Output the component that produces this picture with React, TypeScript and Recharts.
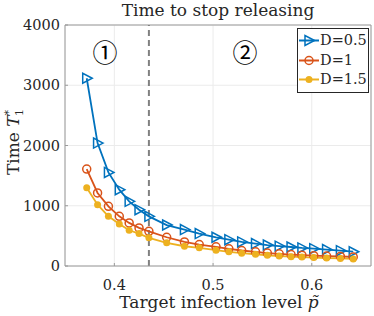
import React from 'react';
import {
  LineChart,
  Line,
  XAxis,
  YAxis,
  CartesianGrid,
  ReferenceLine,
} from 'recharts';

// target infection level p~
const pTilde = [
  0.372, 0.383, 0.394, 0.405, 0.415, 0.425, 0.435, 0.453, 0.471, 0.486, 0.503,
  0.516, 0.529, 0.543, 0.555, 0.567, 0.579, 0.59, 0.602, 0.615, 0.629, 0.642,
];
const timeD05 = [
  3116, 2040, 1553, 1267, 1073, 935, 824, 680, 605, 538, 477, 437, 400, 372,
  348, 330, 315, 300, 288, 273, 255, 237,
];
const timeD1 = [
  1609, 1212, 990, 824, 715, 632, 576, 477, 400, 356, 318, 285, 257, 235, 215,
  202, 190, 180, 172, 165, 158, 150,
];
const timeD15 = [
  1300, 1018, 824, 699, 593, 538, 467, 384, 328, 301, 262, 235, 212, 195, 178,
  165, 155, 148, 140, 132, 125, 118,
];
const xTicks = [0.4, 0.5, 0.6];
const yTicks = [0, 1000, 2000, 3000, 4000];
const xDomain = [0.35, 0.66];
const yDomain = [0, 4000];
const threshold = 0.435;

const series = [
  { key: 'd05', name: 'D=0.5', color: '#0072BD', marker: 'tri' },
  { key: 'd1', name: 'D=1', color: '#D95319', marker: 'ring' },
  { key: 'd15', name: 'D=1.5', color: '#EDB120', marker: 'dot' },
];

const data = pTilde.map((p, i) => ({
  p,
  d05: timeD05[i],
  d1: timeD1[i],
  d15: timeD15[i],
}));

const serif = '"DejaVu Serif", serif';
const ink = '#262626';
const axisGray = '#9a9a9a';

const Marker = ({ kind, cx, cy, color }: any) => {
  if (cx == null || cy == null) return null;
  if (kind === 'tri') {
    return (
      <polygon
        points={`${cx + 5.5},${cy} ${cx - 4},${cy - 5} ${cx - 4},${cy + 5}`}
        fill="none"
        stroke={color}
        strokeWidth={1.5}
      />
    );
  }
  if (kind === 'ring') {
    return <circle cx={cx} cy={cy} r={4} fill="none" stroke={color} strokeWidth={1.5} />;
  }
  return <circle cx={cx} cy={cy} r={3.5} fill={color} stroke="none" />;
};

// legend box drawn on top, like matlab's northeast legend
const LegendBox = () => (
  <div
    style={{
      position: 'absolute',
      left: 297,
      top: 28,
      width: 72,
      height: 65,
      boxSizing: 'border-box',
      border: `1px solid ${ink}`,
      background: '#fff',
      paddingTop: 2,
    }}
  >
    {series.map((s) => (
      <div key={s.key} style={{ display: 'flex', alignItems: 'center', height: 19.6 }}>
        <svg width={22} height={19} style={{ display: 'block' }}>
          <line x1={1} y1={9.5} x2={21} y2={9.5} stroke={s.color} strokeWidth={2} />
          <Marker kind={s.marker} cx={11} cy={9.5} color={s.color} />
        </svg>
        <span style={{ fontFamily: serif, fontSize: 14.5, color: ink, lineHeight: '19px' }}>
          {s.name}
        </span>
      </div>
    ))}
  </div>
);

const circled = '"Noto Sans CJK JP", "DejaVu Sans", sans-serif';

export default function App() {
  return (
    <div
      style={{
        position: 'absolute',
        left: 0,
        top: 0,
        width: 374,
        height: 316,
        background: '#fff',
      }}
    >
      <LineChart
        width={374}
        height={316}
        data={data}
        margin={{ top: 25, right: 3, left: 0, bottom: 0 }}
      >
        <CartesianGrid stroke="#ebebeb" strokeWidth={1} />
        <XAxis
          dataKey="p"
          type="number"
          domain={xDomain}
          ticks={xTicks}
          allowDataOverflow
          height={50}
          tickFormatter={(v) => String(v)}
          tick={{ fill: ink, fontSize: 14.5, fontFamily: serif }}
          tickSize={-3}
          tickMargin={17}
          tickLine={{ stroke: axisGray }}
          axisLine={{ stroke: axisGray }}
        />
        <YAxis
          type="number"
          domain={yDomain}
          ticks={yTicks}
          width={65}
          tick={{ fill: ink, fontSize: 14.5, fontFamily: serif }}
          tickSize={-3}
          tickMargin={8}
          tickLine={{ stroke: axisGray }}
          axisLine={{ stroke: axisGray }}
        />
        <ReferenceLine y={4000} stroke={axisGray} />
        <ReferenceLine x={0.66} stroke={axisGray} />
        <ReferenceLine
          x={threshold}
          stroke="#808080"
          strokeWidth={2}
          strokeDasharray="6 4"
        />
        {series.map((s) => (
          <Line
            key={s.key}
            dataKey={s.key}
            name={s.name}
            stroke={s.color}
            strokeWidth={1.8}
            type="linear"
            isAnimationActive={false}
            dot={(props: any) => (
              <Marker key={`${s.key}-${props.index}`} kind={s.marker} cx={props.cx} cy={props.cy} color={s.color} />
            )}
            activeDot={false}
          />
        ))}
      </LineChart>
      <svg
        width={374}
        height={316}
        style={{ position: 'absolute', left: 0, top: 0, pointerEvents: 'none' }}
      >
        <text x={218} y={16} textAnchor="middle" fontFamily={serif} fontSize={17} fill={ink}>
          Time to stop releasing
        </text>
        <text x={219} y={308} textAnchor="middle" fontFamily={serif} fontSize={17} fill={ink}>
          Target infection level{' '}
          <tspan fontStyle="italic">p̃</tspan>
        </text>
        <text
          transform="translate(19,142) rotate(-90)"
          textAnchor="middle"
          fontFamily={serif}
          fontSize={17}
          fill={ink}
        >
          Time <tspan fontStyle="italic">T</tspan>
          <tspan fontSize={11} dy={-7}>*</tspan>
          <tspan fontSize={11} dx={-6} dy={11}>1</tspan>
        </text>
        <text x={105} y={62} textAnchor="middle" fontFamily={circled} fontSize={25} fill="#000">
          ①
        </text>
        <text x={245} y={62} textAnchor="middle" fontFamily={circled} fontSize={25} fill="#000">
          ②
        </text>
      </svg>
      <LegendBox />
    </div>
  );
}
